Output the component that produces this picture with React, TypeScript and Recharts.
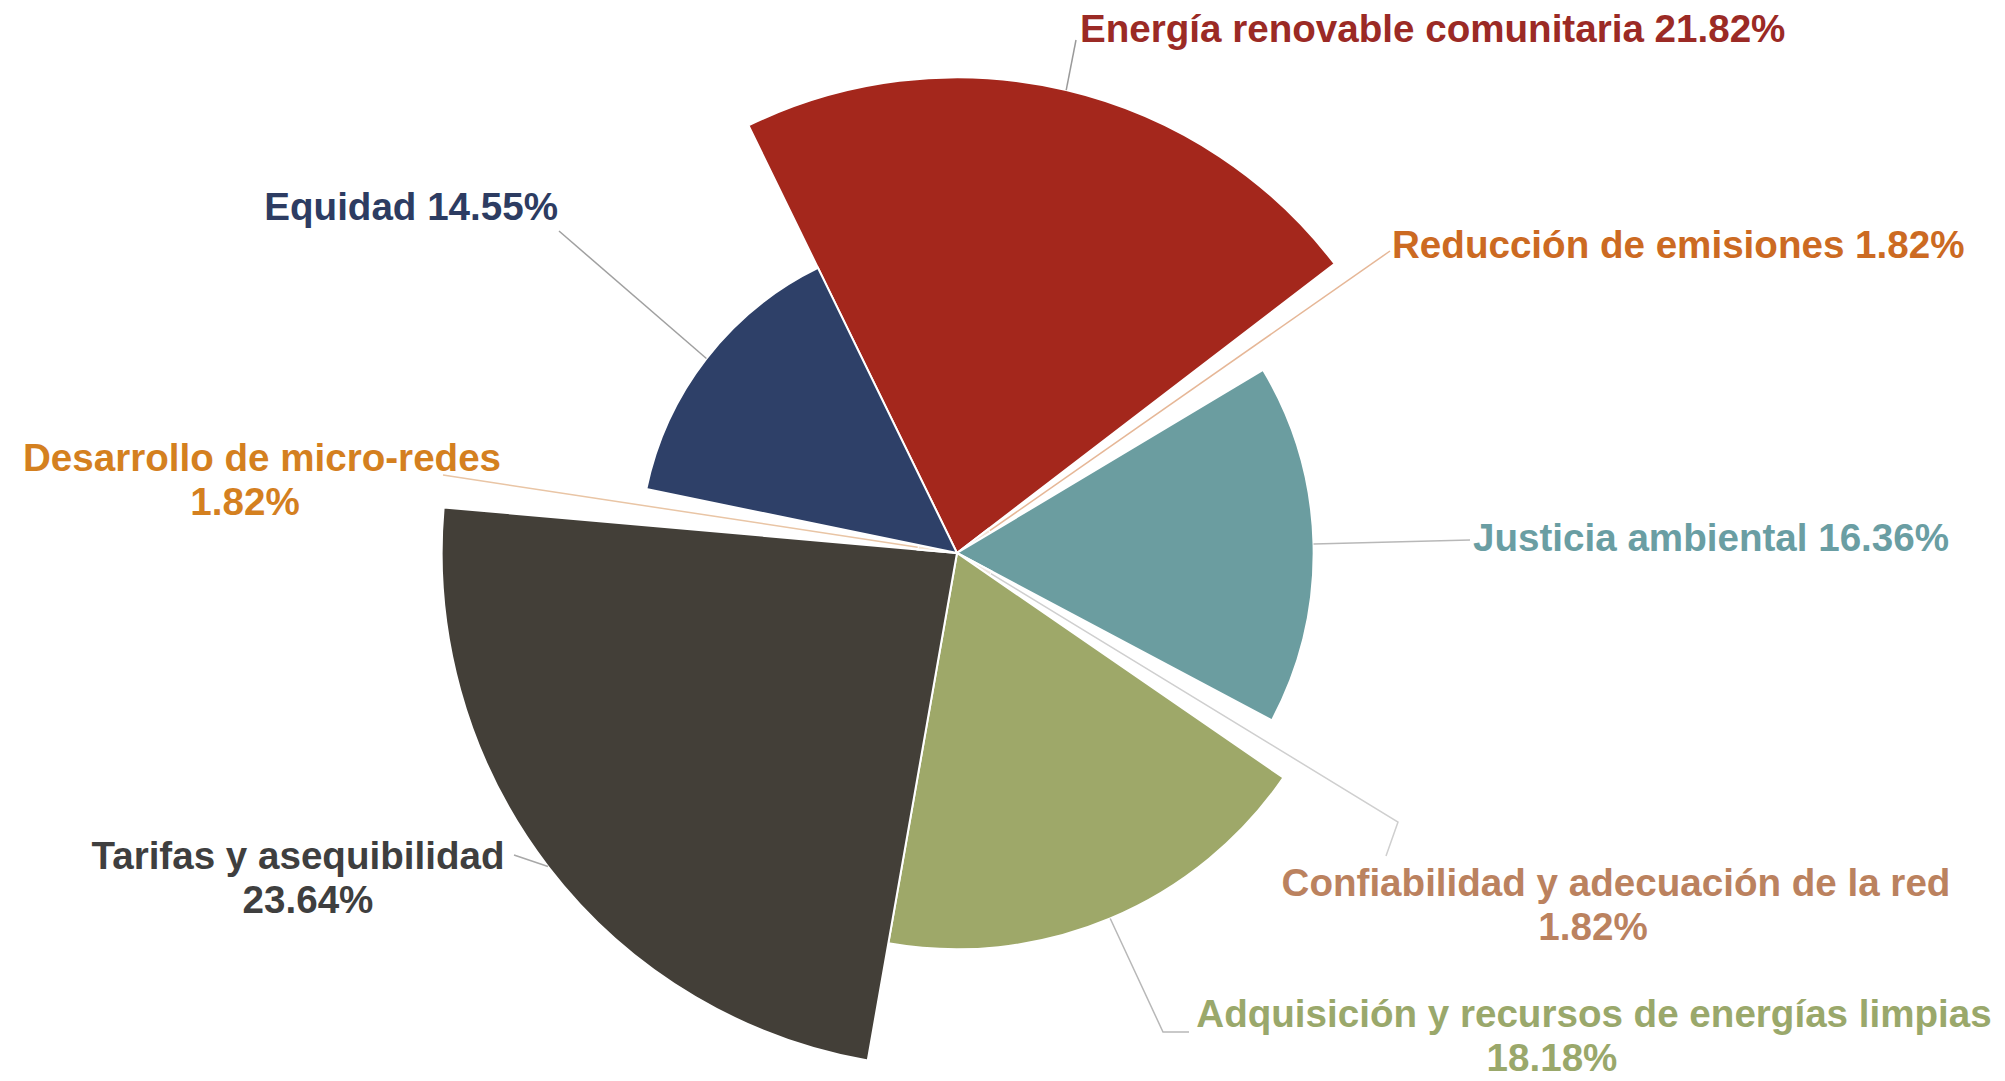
import React from 'react';
import { PieChart, Pie, Cell } from 'recharts';

// ---- data ----
const categories: string[] = [
  'Energía renovable comunitaria',
  'Reducción de emisiones',
  'Justicia ambiental',
  'Confiabilidad y adecuación de la red',
  'Adquisición y recursos de energías limpias',
  'Tarifas y asequibilidad',
  'Desarrollo de micro-redes',
  'Equidad',
];
const shares: number[] = [21.82, 1.82, 16.36, 1.82, 18.18, 23.64, 1.82, 14.55];

// ---- style ----
const sliceColors = ['#a4271c', '#f3e3d6', '#6b9da0', '#efe6df', '#9ea869', '#433f38', '#f5e4d2', '#2e4068'];
const labelColors = ['#9b2a25', '#cc6a22', '#6a9ea3', '#bb825f', '#9aa86b', '#3f3f3f', '#d4801f', '#2d3c62'];
const lineColors = ['#9a9a9a', '#e6b797', '#b8b8b8', '#cfcfcf', '#b8b8b8', '#a8a8a8', '#e9c5a5', '#a0a0a0'];

const W = 2005;
const H = 1081;
const CX = 957;
const CY = 553;
const PX_PER_PERCENT = 21.8;
const START = 116;
const FONT = "'Liberation Sans', Arial, sans-serif";
const FS = 38.6;
const GAP = 44;

type Layout = {
  pts: [number, number][];
  x: number;
  y: number;
  anchor: 'start' | 'middle' | 'end';
  split: boolean;
  dx2?: number;
};
const labelLayout: Layout[] = [
  { pts: [[1076, 40]], x: 1080, y: 28, anchor: 'start', split: false },
  { pts: [[1390, 251]], x: 1392, y: 244, anchor: 'start', split: false },
  { pts: [[1470, 540]], x: 1473, y: 537, anchor: 'start', split: false },
  { pts: [[1398, 822], [1386, 856]], x: 1616, y: 882, anchor: 'middle', split: true, dx2: -23 },
  { pts: [[1163, 1032], [1189, 1032]], x: 1594, y: 1013, anchor: 'middle', split: true, dx2: -42 },
  { pts: [[514, 855]], x: 298, y: 855, anchor: 'middle', split: true, dx2: 10 },
  { pts: [[443, 475]], x: 262, y: 457, anchor: 'middle', split: true, dx2: -17 },
  { pts: [[559, 231]], x: 558, y: 206, anchor: 'end', split: false },
];

const rows = categories.map((name, i) => ({ name, value: shares[i] }));
const RAD = Math.PI / 180;

function makeLabel(i: number) {
  return (p: any) => {
    if (p.index !== i) return null;
    const lay = labelLayout[i];
    const sx = p.cx + p.outerRadius * Math.cos(-p.midAngle * RAD);
    const sy = p.cy + p.outerRadius * Math.sin(-p.midAngle * RAD);
    const pts = [[sx, sy], ...lay.pts].map((q) => q.join(',')).join(' ');
    const pct = `${shares[i].toFixed(2)}%`;
    const lines = lay.split ? [categories[i], pct] : [`${categories[i]} ${pct}`];
    return (
      <g>
        <polyline points={pts} fill="none" stroke={lineColors[i]} strokeWidth={1.5} />
        <text
          x={lay.x}
          y={lay.y}
          textAnchor={lay.anchor}
          fill={labelColors[i]}
          fontFamily={FONT}
          fontWeight={700}
          fontSize={FS}
        >
          {lines.map((t, k) => (
            <tspan
              key={k}
              x={lay.x + (k === 1 ? lay.dx2 || 0 : 0)}
              y={lay.y + k * GAP}
              dominantBaseline="central"
            >
              {t}
            </tspan>
          ))}
        </text>
      </g>
    );
  };
}

export default function App() {
  return (
    <div style={{ position: 'absolute', left: 0, top: 0, width: W, height: H, background: '#fff' }}>
      <PieChart width={W} height={H} margin={{ top: 0, right: 0, bottom: 0, left: 0 }}>
        {rows.map((_, i) => (
          <Pie
            key={i}
            data={rows}
            dataKey="value"
            nameKey="name"
            cx={CX}
            cy={CY}
            innerRadius={0}
            outerRadius={shares[i] * PX_PER_PERCENT}
            startAngle={START}
            endAngle={START - 360}
            isAnimationActive={false}
            label={makeLabel(i)}
            labelLine={false}
          >
            {rows.map((__, j) => (
              <Cell
                key={j}
                fill={i === j ? sliceColors[j] : 'transparent'}
                stroke={i === j ? '#ffffff' : 'none'}
                strokeWidth={i === j ? 2 : 0}
              />
            ))}
          </Pie>
        ))}
      </PieChart>
    </div>
  );
}
